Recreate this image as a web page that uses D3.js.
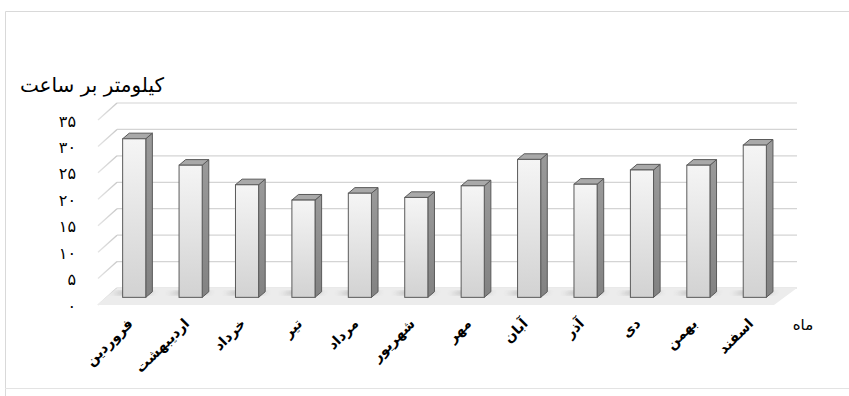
<!DOCTYPE html>
<html>
<head>
<meta charset="utf-8">
<script src="https://cdn.jsdelivr.net/npm/d3@7"></script>
<style>
  html, body { margin: 0; padding: 0; background: #fff; }
  svg { display: block; }
  text { font-family: "DejaVu Sans", sans-serif; fill: #000; }
</style>
</head>
<body>
<svg id="chart" width="849" height="396"></svg>
<script>
// Monthly average wind speed (km/h), Persian calendar months
const months = ["فروردین", "اردیبهشت", "خرداد", "تیر", "مرداد", "شهریور",
                "مهر", "آبان", "آذر", "دی", "بهمن", "اسفند"];
const speeds = [30, 25, 21.3, 18.4, 19.7, 18.9, 21.1, 26.1, 21.4, 24.1, 25, 28.8];
const yTickValues = [0, 5, 10, 15, 20, 25, 30, 35];
const yTickLabels = ["۰", "۵", "۱۰", "۱۵", "۲۰", "۲۵", "۳۰", "۳۵"];
const yTitle = "کیلومتر بر ساعت";
const xTitle = "ماه";

const svg = d3.select("#chart");

// oblique 3D projection: front plane + depth vector
const depth = { dx: 20, dy: -17 };
const frontL = 97, frontR = 774;
const x = d3.scaleBand().domain(months).range([frontL, frontR])
  .paddingInner(0.59).paddingOuter(0.295);
const y = d3.scaleLinear().domain([0, 35]).range([305, 120]);
const P = (px, v, f) => [px + f * depth.dx, y(v) + f * depth.dy];

const defs = svg.append("defs");
const frontGrad = defs.append("linearGradient").attr("id", "barFront")
  .attr("x1", 0).attr("y1", 0).attr("x2", 0).attr("y2", 1);
frontGrad.append("stop").attr("offset", "0%").attr("stop-color", "#f5f5f5");
frontGrad.append("stop").attr("offset", "100%").attr("stop-color", "#d2d2d2");
const sideGrad = defs.append("linearGradient").attr("id", "barSide")
  .attr("x1", 0).attr("y1", 0).attr("x2", 0).attr("y2", 1);
sideGrad.append("stop").attr("offset", "0%").attr("stop-color", "#9a9a9a");
sideGrad.append("stop").attr("offset", "100%").attr("stop-color", "#828282");
const wallGrad = defs.append("linearGradient").attr("id", "wallLine")
  .attr("x1", 0).attr("y1", 0).attr("x2", 1).attr("y2", 0);
wallGrad.append("stop").attr("offset", "0%").attr("stop-color", "#e4e4e4");
wallGrad.append("stop").attr("offset", "100%").attr("stop-color", "#c8c8c8");
defs.append("filter").attr("id", "soft").attr("x", "-30%").attr("y", "-50%")
  .attr("width", "160%").attr("height", "200%")
  .append("feGaussianBlur").attr("stdDeviation", 2);

// chart frame
svg.append("path").attr("d", "M5.5,396 V11.5 H849")
  .attr("fill", "none").attr("stroke", "#d9d9d9");
svg.append("line").attr("x1", 5).attr("x2", 849).attr("y1", 388.5).attr("y2", 388.5)
  .attr("stroke", "#e3e3e3");

// back wall and side wall gridlines
const backR = 797;
const grid = svg.append("g");
yTickValues.forEach(v => {
  const [bx, by] = P(frontL, v, 1);
  grid.append("line").attr("x1", bx).attr("x2", backR).attr("y1", by).attr("y2", by)
    .attr("stroke", "#d4d4d4").attr("stroke-width", 1.2);
  const [fx, fy] = P(frontL, v, 0);
  grid.append("line").attr("x1", fx + 1).attr("y1", fy).attr("x2", bx).attr("y2", by)
    .attr("stroke", "url(#wallLine)").attr("stroke-width", 1.3);
});

// floor
const fl = [P(frontL, 0, 0), P(frontR, 0, 0), P(backR - depth.dx, 0, 1), P(frontL, 0, 1)];
svg.append("polygon").attr("points", fl.map(p => p.join(",")).join(" "))
  .attr("fill", "#ececec");

// bars
const f1 = 0.45, f2 = 0.78;
const bw = x.bandwidth();
const bars = svg.append("g");
months.forEach((m, i) => {
  const v = speeds[i];
  const xl = x(m), xr = x(m) + bw;
  // shadow on the floor
  const sh = [P(xl - 16, 0, f1 + 0.2), P(xr - 4, 0, f1 + 0.2), P(xr + 4, 0, f2), P(xl - 6, 0, f2)];
  bars.append("polygon").attr("points", sh.map(p => p.join(",")).join(" "))
    .attr("fill", "#858585").attr("opacity", 0.8).attr("filter", "url(#soft)");
  const side = [P(xr, v, f1), P(xr, v, f2), P(xr, 0, f2), P(xr, 0, f1)];
  const top = [P(xl, v, f1), P(xr, v, f1), P(xr, v, f2), P(xl, v, f2)];
  const [fx0, fy0] = P(xl, v, f1);
  const [, fy1] = P(xl, 0, f1);
  bars.append("polygon").attr("points", side.map(p => p.join(",")).join(" "))
    .attr("fill", "url(#barSide)").attr("stroke", "#5a5a5a").attr("stroke-width", 1)
    .attr("stroke-linejoin", "round");
  bars.append("polygon").attr("points", top.map(p => p.join(",")).join(" "))
    .attr("fill", "#a9a9a9").attr("stroke", "#5a5a5a").attr("stroke-width", 1)
    .attr("stroke-linejoin", "round");
  bars.append("rect").attr("x", fx0).attr("y", fy0).attr("width", bw).attr("height", fy1 - fy0)
    .attr("fill", "url(#barFront)").attr("stroke", "#5a5a5a").attr("stroke-width", 1);
});

// value axis (labels only)
const yAxis = d3.axisLeft(y).tickValues(yTickValues)
  .tickFormat((d, i) => yTickLabels[i]).tickSize(0).tickPadding(0);
const gy = svg.append("g").attr("transform", "translate(76,1)").call(yAxis);
gy.select(".domain").remove();
gy.selectAll("text").style("font-family", "DejaVu Sans").style("font-size", "16px")
  .attr("fill", "#000");

// category axis (rotated labels)
const xAxis = d3.axisBottom(x).tickSize(0);
const gx = svg.append("g").attr("transform", "translate(5,321)").call(xAxis);
gx.select(".domain").remove();
gx.selectAll("text").attr("x", 0).attr("y", 0).attr("dy", "0.35em")
  .attr("text-anchor", "end").attr("transform", "rotate(-45)")
  .style("font-family", "DejaVu Sans").style("font-size", "14px").style("font-weight", "bold")
  .attr("fill", "#000");

// axis titles
svg.append("text").attr("x", 164).attr("y", 92).attr("text-anchor", "end")
  .style("font-size", "20px").text(yTitle);
svg.append("text").attr("x", 803).attr("y", 330).attr("text-anchor", "middle")
  .style("font-size", "15px").text(xTitle);
</script>
</body>
</html>
